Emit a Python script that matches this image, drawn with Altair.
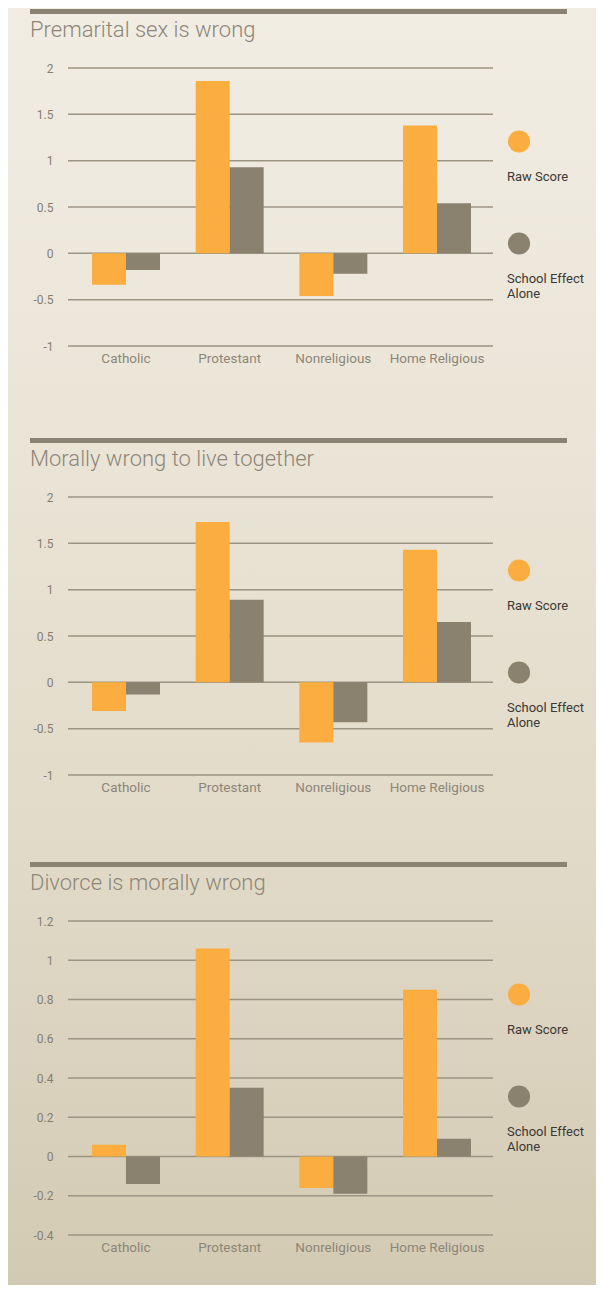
import altair as alt
import pandas as pd

# ---------------- data ----------------
categories = ["Catholic", "Protestant", "Nonreligious", "Home Religious"]
series = ["Raw Score", "School Effect Alone"]
legend_labels = ["Raw Score", "School Effect\nAlone"]
series_colors = ["#fbae3f", "#8a816f"]

titles = ["Premarital sex is wrong", "Morally wrong to live together", "Divorce is morally wrong"]

premarital_raw = [-0.34, 1.86, -0.46, 1.38]
premarital_school = [-0.18, 0.93, -0.22, 0.54]
together_raw = [-0.31, 1.73, -0.65, 1.43]
together_school = [-0.13, 0.89, -0.43, 0.65]
divorce_raw = [0.06, 1.06, -0.16, 0.85]
divorce_school = [-0.14, 0.35, -0.19, 0.09]

ticks_a = [-1, -0.5, 0, 0.5, 1, 1.5, 2]
ticks_b = [-0.4, -0.2, 0, 0.2, 0.4, 0.6, 0.8, 1, 1.2]

FONT = "Roboto"
TEXT_GRAY = "#8d8678"
W = 425


def panel(title, raw, school, ticks, plot_h, top=0, with_bg=False):
    height = plot_h + top
    df = pd.DataFrame({
        "category": categories * 2,
        "series": [series[0]] * len(categories) + [series[1]] * len(categories),
        "value": raw + school,
    })
    tdf = pd.DataFrame({"title": [title]})
    gdf = pd.DataFrame({"value": ticks})
    ldf = pd.DataFrame({"series": series, "label": legend_labels})
    color = alt.Color("series:N", scale=alt.Scale(domain=series, range=series_colors), legend=None)
    yscale = alt.Scale(domain=[ticks[0], ticks[-1]], nice=False, zero=True, range=[height, top])

    grid = alt.Chart(gdf).mark_rule(color="#9c9483", strokeWidth=1.5).encode(
        y=alt.Y("value:Q", scale=yscale, axis=None),
        x=alt.value(0), x2=alt.value(W),
    )

    bars = alt.Chart(df).mark_bar().encode(
        x=alt.X("category:N", sort=categories,
                scale=alt.Scale(range=[0, 427], paddingInner=0.344, paddingOuter=0.2315),
                axis=alt.Axis(title=None, domain=False, ticks=False, labelAngle=0, labelPadding=5,
                              labelFontSize=13.5, labelColor=TEXT_GRAY, labelFont=FONT, zindex=1)),
        xOffset=alt.XOffset("series:N", sort=series, scale=alt.Scale(paddingInner=0, paddingOuter=0)),
        y=alt.Y("value:Q", scale=yscale,
                axis=alt.Axis(title=None, values=ticks, labelExpr="'' + datum.value", domain=False,
                              ticks=False, grid=False, labelPadding=15, labelFontSize=12,
                              labelColor="#857e70", labelFont=FONT, zindex=1)),
        color=color,
    )

    rule = alt.Chart(tdf).mark_rule(color="#8a8272", strokeWidth=5).encode(
        x=alt.value(-38), x2=alt.value(499), y=alt.value(top - 56.5)
    )
    ttl = alt.Chart(tdf).mark_text(align="left", baseline="alphabetic", fontSize=22,
                                   fontWeight=300, font=FONT, color=TEXT_GRAY).encode(
        text="title:N", x=alt.value(-38), y=alt.value(top - 31)
    )

    ly = alt.Y("series:N", sort=series,
               scale=alt.Scale(domain=series, range=[top + 73.5, top + 175.5], padding=0), axis=None)
    dots = alt.Chart(ldf).mark_circle(size=491, opacity=1).encode(
        x=alt.value(451), y=ly, color=color
    )
    ltext = alt.Chart(ldf).mark_text(align="left", baseline="alphabetic", lineBreak="\n",
                                     fontSize=13, font=FONT, color="#3b3835", dy=39.5).encode(
        x=alt.value(439), y=ly, text="label:N"
    )

    layers = []
    if with_bg:
        bg = alt.Chart(tdf).mark_rect(
            fill=alt.Gradient(
                gradient="linear",
                stops=[
                    alt.GradientStop(offset=0, color="#f1ede3"),
                    alt.GradientStop(offset=0.32, color="#ebe5d8"),
                    alt.GradientStop(offset=0.66, color="#e1dac8"),
                    alt.GradientStop(offset=1, color="#d3cab3"),
                ],
                x1=0, x2=0, y1=0, y2=1,
            )
        ).encode(x=alt.value(-60), x2=alt.value(528), y=alt.value(-60), y2=alt.value(1217))
        layers.append(bg)
    layers += [grid, rule, ttl, bars, dots, ltext]
    return alt.layer(*layers).resolve_scale(y="independent").properties(width=W, height=height)


p1 = panel(titles[0], premarital_raw, premarital_school, ticks_a, 278, top=0, with_bg=True)
p2 = panel(titles[1], together_raw, together_school, ticks_a, 278, top=5)
p3 = panel(titles[2], divorce_raw, divorce_school, ticks_b, 314, top=0)

chart = alt.vconcat(p1, p2, p3, spacing=146, bounds="flush").properties(
    padding=0, background="white"
).configure_view(strokeWidth=0)

chart.save("out.html", embed_options={"renderer": "svg", "actions": False})
